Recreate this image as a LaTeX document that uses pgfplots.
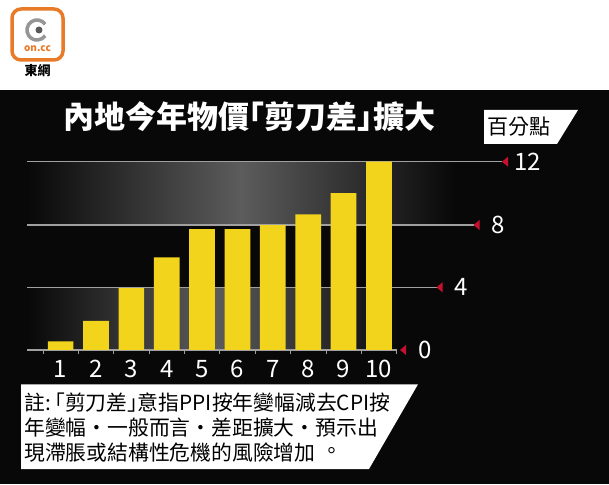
\documentclass[border=0pt]{standalone}
\usepackage{pgfplots}
\pgfplotsset{compat=1.18}
\usepackage{fontspec}
\setmainfont{Noto Sans CJK TC}
\newfontfamily\cjk{Noto Sans CJK TC}
\newfontfamily\cjkhalt[RawFeature=+halt]{Noto Sans CJK TC}
\definecolor{bg}{RGB}{8,8,8}
\definecolor{baryellow}{RGB}{242,212,28}
\definecolor{gridgray}{RGB}{160,160,160}
\definecolor{tri}{RGB}{200,16,46}
\definecolor{onorange}{RGB}{232,122,40}
\definecolor{bandgray}{RGB}{92,92,92}
\definecolor{icongray}{RGB}{150,150,150}
\newcommand\zc{\makebox[1em][c]{·}}
\newcommand\zp{\makebox[1em][l]{\hspace{0.27em}\raisebox{0.12em}{\makebox[0.5em][l]{。}}}}
\begin{document}
\begin{tikzpicture}[x=1pt,y=1pt]
\useasboundingbox (0,0) rectangle (609,484);
% backgrounds
\fill[white] (0,0) rectangle (609,484);
\fill[bg] (0,0) rectangle (609,394);
% logo
\draw[onorange, line width=3.5pt, fill=white, rounded corners=9pt] (12,424) rectangle (63,475);
\draw[icongray, line width=3.5pt] (37,454) ++(35:10) arc[start angle=35, end angle=325, radius=10];
\fill[black!65] (39,454) circle (3.5);
\node[text=onorange, font=\fontsize{10}{10}\selectfont\bfseries, inner sep=0] at (37.5,435) {on.cc};
\node[text=black, font=\fontsize{13}{13}\selectfont\bfseries, inner sep=0] at (37.5,413) {東網};
% title
\node[text=white, font=\cjkhalt\fontsize{31}{31}\selectfont\bfseries, inner sep=0] at (249,367) {內地今年物價「剪刀差」擴大};
% unit box
\fill[white] (484,374) -- (578,374) -- (557,340) -- (484,340) -- cycle;
\node[text=black, font=\fontsize{21}{21}\selectfont, inner sep=0] at (519,357) {百分點};
% bands
\shade[left color=bg, right color=bg, middle color=bandgray] (27,259) rectangle (455,322.3);
\shade[left color=bg, right color=bg, middle color=bandgray] (27,134) rectangle (400,196.7);
% gridlines
\draw[gridgray, line width=1.1pt] (27,322.3) -- (502,322.3);
\draw[gridgray, line width=1.1pt] (27,259) -- (473.5,259);
\draw[gridgray, line width=1.1pt] (27,196.7) -- (436.5,196.7);
% triangles
\fill[tri] (502,322.3) -- (508,327.3) -- (508,317.3) -- cycle;
\fill[tri] (473.5,259) -- (479.5,264) -- (479.5,254) -- cycle;
\fill[tri] (436.5,196.7) -- (442.5,201.7) -- (442.5,191.7) -- cycle;
\fill[tri] (400,134) -- (406,139) -- (406,129) -- cycle;
% right labels
\node[text=white, font=\fontsize{24}{24}\selectfont, anchor=west, inner sep=0] at (514,322.3) {12};
\node[text=white, font=\fontsize{24}{24}\selectfont, anchor=west, inner sep=0] at (491,259) {8};
\node[text=white, font=\fontsize{24}{24}\selectfont, anchor=west, inner sep=0] at (454,196.7) {4};
\node[text=white, font=\fontsize{24}{24}\selectfont, anchor=west, inner sep=0] at (418,134) {0};
\begin{axis}[
  at={(27pt,134pt)}, anchor=south west,
  scale only axis, width=370pt, height=188.3pt,
  xmin=0.05, xmax=10.51, ymin=0, ymax=12,
  axis y line=none, axis x line*=bottom,
  x axis line style={draw=gridgray, line width=1.1pt},
  xtick={1,...,10}, major tick length=0pt,
  minor xtick={0.5,1.5,...,10.5}, minor tick length=4pt,
  xtick align=outside,
  minor tick style={draw=gridgray, line width=0.8pt},
  /pgf/number format/assume math mode=true,
  xticklabel style={text=white, font=\fontsize{24}{24}\selectfont, inner sep=0pt, anchor=north, yshift=-10pt},
  ybar, bar width=25.7pt, bar shift=0pt,
  clip=false,
]
\addplot[fill=baryellow, draw=none] coordinates {(1,0.55) (2,1.85) (3,3.95) (4,5.9) (5,7.7) (6,7.7) (7,7.95) (8,8.65) (9,10.0) (10,12.0)};
\end{axis}
% note box
\fill[white] (21,99.7) -- (418,99.7) -- (369,15) -- (21,15) -- cycle;
\node[text=black, font=\cjkhalt\fontsize{20.8}{20.8}\selectfont, anchor=west, inner sep=0] at (24,81) {註:\hspace{4pt}「剪刀差」意指PPI按年變幅減去CPI按};
\node[text=black, font=\fontsize{20.8}{20.8}\selectfont, anchor=west, inner sep=0] at (24,56) {年變幅\zc 一般而言\zc 差距擴大\zc 預示出};
\node[text=black, font=\fontsize{20.8}{20.8}\selectfont, anchor=west, inner sep=0] at (24,31) {現滯脹或結構性危機的風險增加\zp};
\end{tikzpicture}
\end{document}
